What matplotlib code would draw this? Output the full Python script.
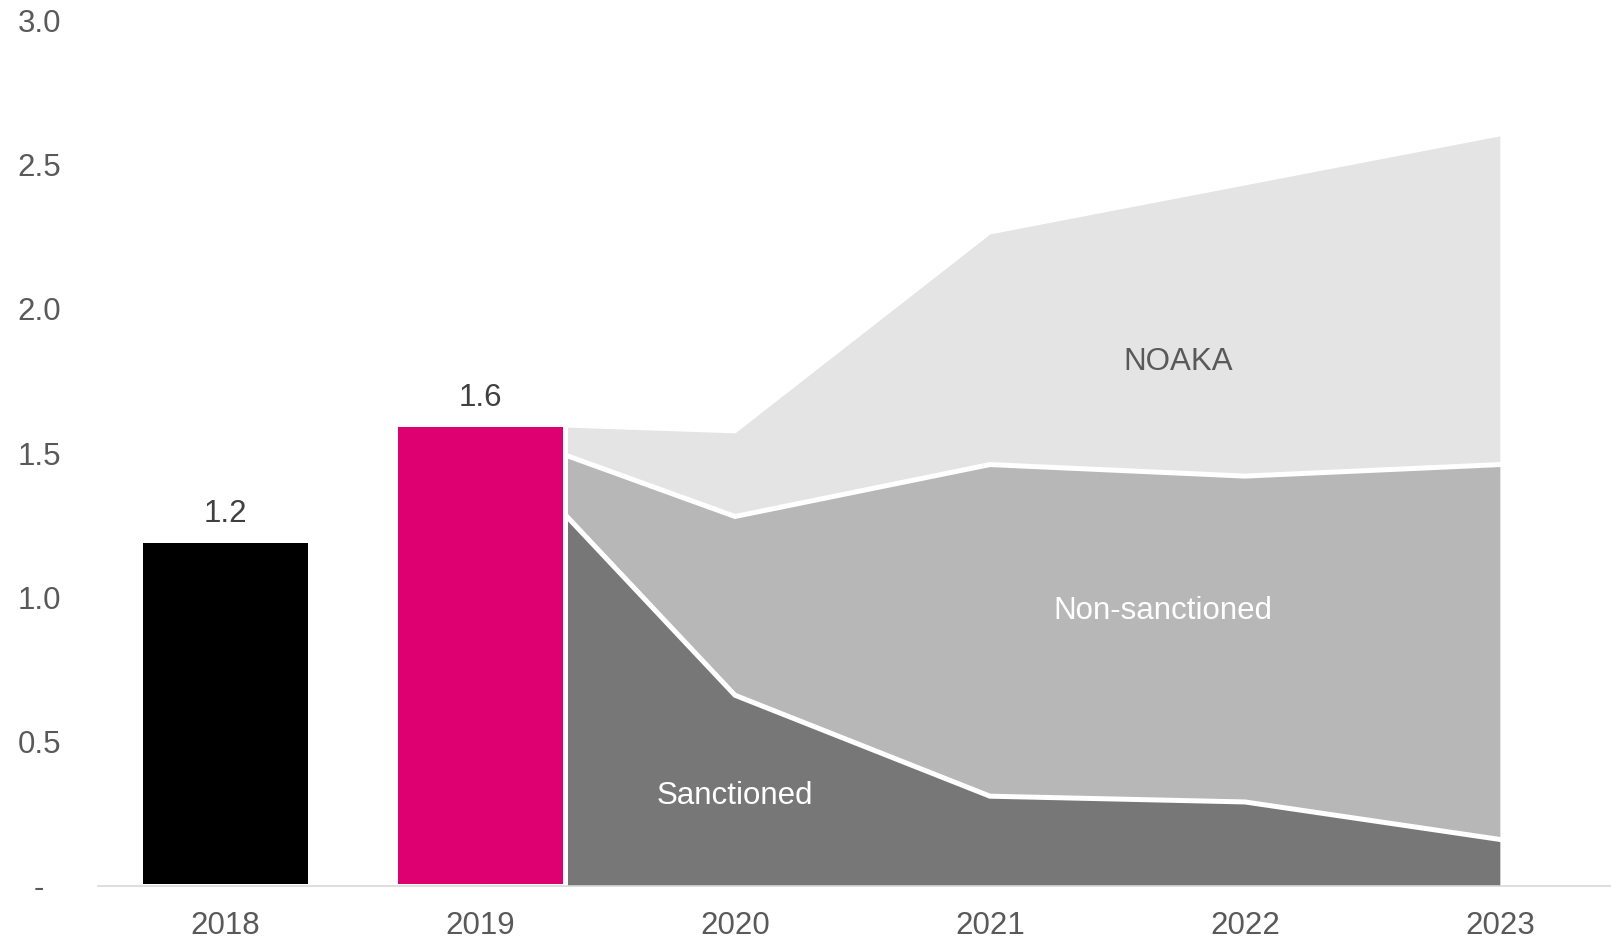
import matplotlib.pyplot as plt

plt.rcParams['font.family'] = ['Liberation Sans', 'DejaVu Sans']

# data
years = ['2018', '2019', '2020', '2021', '2022', '2023']
bar_values = [1.2, 1.6]
bar_colors = ['#000000', '#DE0070']

area_years = [1, 2, 3, 4, 5]  # 2019..2023 as category positions
sanctioned = [1.60, 0.66, 0.31, 0.29, 0.16]
non_sanctioned = [0.00, 0.62, 1.15, 1.13, 1.30]
noaka = [0.00, 0.29, 0.80, 1.01, 1.14]
layer_names = ['Sanctioned', 'Non-sanctioned', 'NOAKA']
layer_colors = ['#777777', '#B7B7B7', '#E4E4E4']

y_ticks = [0, 0.5, 1.0, 1.5, 2.0, 2.5, 3.0]
y_ticklabels = ['-', '0.5', '1.0', '1.5', '2.0', '2.5', '3.0']

# chart
fig = plt.figure(figsize=(16.11, 9.40), dpi=100)
ax = fig.add_axes([0.0606, 0.0579, 0.9394, 0.9203])

# stacked areas
layers = [sanctioned, non_sanctioned, noaka]
bottom = [0.0] * len(area_years)
for values, name, color in zip(layers, layer_names, layer_colors):
    top = [b + v for b, v in zip(bottom, values)]
    ax.fill_between(area_years, bottom, top, color=color, linewidth=0, zorder=1)
    bottom = top
# white separators between layers
edge = [0.0] * len(area_years)
for values in layers[:-1]:
    edge = [e + v for e, v in zip(edge, values)]
    ax.plot(area_years, edge, color='white', linewidth=3.6, solid_joinstyle='miter', zorder=2)

# actual bars
bars = ax.bar([0, 1], bar_values, width=0.665, color=bar_colors,
              edgecolor='white', linewidth=3.6, zorder=3)
for x, v in zip([0, 1], bar_values):
    ax.text(x, v + 0.09, f'{v:.1f}', ha='center', va='center',
            fontsize=22.5, color='#404040', zorder=4)

# area labels
ax.text(2.0, 0.31, 'Sanctioned', ha='center', va='center', fontsize=22.5, color='white', zorder=4)
ax.text(3.68, 0.952, 'Non-sanctioned', ha='center', va='center', fontsize=22.5, color='white', zorder=4)
ax.text(3.74, 1.815, 'NOAKA', ha='center', va='center', fontsize=22.5, color='#595959', zorder=4)

# appearance
ax.set_xlim(-0.5, 5.436)
ax.set_ylim(0, 3.0)
ax.set_xticks(range(len(years)))
ax.set_xticklabels(years)
ax.set_yticks(y_ticks)
ax.set_yticklabels(y_ticklabels)
for lbl in ax.get_yticklabels():
    lbl.set_horizontalalignment('center')
ax.tick_params(axis='y', length=0, pad=42, labelsize=22.5, labelcolor='#595959')
ax.tick_params(axis='x', length=0, pad=18, labelsize=22.5, labelcolor='#595959')
for side in ['left', 'top', 'right']:
    ax.spines[side].set_visible(False)
ax.spines['bottom'].set_color('#D9D9D9')
ax.spines['bottom'].set_linewidth(1.2)
ax.spines['bottom'].set_zorder(5)

fig.savefig('out.png', dpi=100)
